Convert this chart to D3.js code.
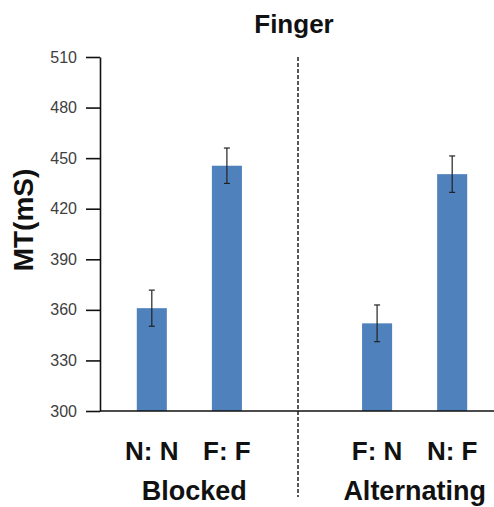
<!DOCTYPE html>
<html>
<head>
<meta charset="utf-8">
<script src="https://cdn.jsdelivr.net/npm/d3@7"></script>
<style>
  body { margin: 0; background: #fff; }
  svg { display: block; font-family: "Liberation Sans", Arial, sans-serif; }
</style>
</head>
<body>
<svg class="chart"></svg>
<script>
// values
let categories = ["N: N", "F: F", "F: N", "N: F"];
let groups = ["Blocked", "Blocked", "Alternating", "Alternating"];
let means = [361, 445.5, 352, 440.5];
let errors = [10.7, 10.5, 10.9, 10.8];
let yTicks = [300, 330, 360, 390, 420, 450, 480, 510];

let w = 494;
let h = 507;

var svg = d3.select(".chart")
            .attr("width", w)
            .attr("height", h);

// 5 slots, the middle one is left empty as the gap between blocks
var slot = i => (i < 2 ? i : i + 1);
var xS = d3.scaleBand()
           .domain([0, 1, 2, 3, 4])
           .range([100, 504])
           .paddingInner(0.6)
           .paddingOuter(0.49);

var yS = d3.scaleLinear()
           .domain([300, 510])
           .range([411, 57]);

// bars
svg.selectAll(".bar")
   .data(means)
   .enter().append("rect")
   .attr("class", "bar")
   .attr("x", (d, i) => xS(slot(i)))
   .attr("y", d => yS(d))
   .attr("width", xS.bandwidth())
   .attr("height", d => yS(300) - yS(d))
   .attr("fill", "#4f81bd");

// error bars
var eb = svg.selectAll(".err")
            .data(means)
            .enter().append("g")
            .attr("class", "err")
            .attr("stroke", "#222")
            .attr("stroke-width", 1.2);
eb.append("line")
  .attr("x1", (d, i) => xS(slot(i)) + xS.bandwidth() / 2)
  .attr("x2", (d, i) => xS(slot(i)) + xS.bandwidth() / 2)
  .attr("y1", (d, i) => yS(d + errors[i]))
  .attr("y2", (d, i) => yS(d - errors[i]));
[1, -1].forEach(function(s) {
  eb.append("line")
    .attr("x1", (d, i) => xS(slot(i)) + xS.bandwidth() / 2 - 3)
    .attr("x2", (d, i) => xS(slot(i)) + xS.bandwidth() / 2 + 3)
    .attr("y1", (d, i) => yS(d + s * errors[i]))
    .attr("y2", (d, i) => yS(d + s * errors[i]));
});

// y axis
var yAxis = svg.append("g")
   .attr("transform", "translate(100,0)")
   .call(d3.axisLeft(yS).tickValues(yTicks).tickSize(14).tickPadding(9).tickSizeOuter(0));
yAxis.select(".domain").attr("stroke", "#111").attr("stroke-width", 1.6);
yAxis.selectAll(".tick line").attr("stroke", "#111").attr("stroke-width", 1.6);
yAxis.selectAll(".tick text")
     .attr("font-size", "16px")
     .attr("fill", "#404040")
     .attr("font-family", "Liberation Sans, Arial, sans-serif");

// x baseline
svg.append("line")
   .attr("x1", 100)
   .attr("x2", w)
   .attr("y1", yS(300))
   .attr("y2", yS(300))
   .attr("stroke", "#111")
   .attr("stroke-width", 1.6);

// divider between blocks
var divX = xS(2) + xS.bandwidth() / 2 - 4;
svg.append("line")
   .attr("x1", divX)
   .attr("x2", divX)
   .attr("y1", yS(510))
   .attr("y2", 497)
   .attr("stroke", "#111")
   .attr("stroke-width", 1.4)
   .attr("stroke-dasharray", "4,2");

// category labels
svg.selectAll(".cat")
   .data(categories)
   .enter().append("text")
   .attr("class", "cat")
   .attr("x", (d, i) => xS(slot(i)) + xS.bandwidth() / 2)
   .attr("y", 460)
   .attr("text-anchor", "middle")
   .attr("font-size", "26px")
   .attr("font-weight", "bold")
   .attr("fill", "#111")
   .text(d => d);

// group labels
var groupNames = Array.from(new Set(groups));
svg.selectAll(".grp")
   .data(groupNames)
   .enter().append("text")
   .attr("class", "grp")
   .attr("x", function(g) {
     let idx = groups.map((v, i) => v === g ? i : -1).filter(i => i >= 0);
     let xs = idx.map(i => xS(slot(i)) + xS.bandwidth() / 2);
     return d3.mean(xs) + (g === "Blocked" ? 5 : 0);
   })
   .attr("y", 500)
   .attr("text-anchor", "middle")
   .attr("font-size", "27px")
   .attr("font-weight", "bold")
   .attr("fill", "#111")
   .text(d => d);

// title
svg.append("text")
   .attr("x", 294)
   .attr("y", 33)
   .attr("text-anchor", "middle")
   .attr("font-size", "26px")
   .attr("font-weight", "bold")
   .attr("fill", "#111")
   .text("Finger");

// y label
svg.append("text")
   .attr("transform", "translate(33,220) rotate(-90)")
   .attr("text-anchor", "middle")
   .attr("font-size", "28px")
   .attr("font-weight", "bold")
   .attr("fill", "#111")
   .text("MT(mS)");
</script>
</body>
</html>
